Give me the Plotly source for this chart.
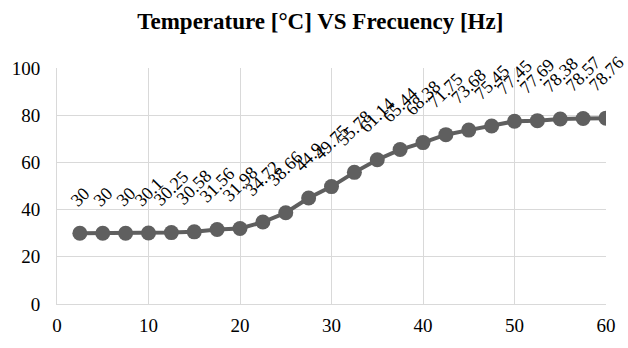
import plotly.graph_objects as go

frequency = [2.5, 5, 7.5, 10, 12.5, 15, 17.5, 20, 22.5, 25, 27.5, 30,
             32.5, 35, 37.5, 40, 42.5, 45, 47.5, 50, 52.5, 55, 57.5, 60]
temperature = [30, 30, 30, 30.1, 30.25, 30.58, 31.56, 31.98, 34.72, 38.66, 44.9, 49.75,
               55.78, 61.14, 65.44, 68.38, 71.75, 73.68, 75.45, 77.45, 77.69, 78.38, 78.57, 78.76]
x_ticks = [0, 10, 20, 30, 40, 50, 60]
y_ticks = [0, 20, 40, 60, 80, 100]
title_text = "Temperature [°C] VS Frecuency [Hz]"

FONT = "Liberation Serif, Times New Roman, serif"
GRAY = "#5f5f5f"
GRID = "#d9d9d9"

fig = go.Figure()
fig.add_trace(go.Scatter(
    x=frequency, y=temperature, mode="lines+markers",
    line=dict(color=GRAY, width=4),
    marker=dict(color=GRAY, size=15),
    showlegend=False, hoverinfo="skip",
))

annotations = []
for xv, yv in zip(frequency, temperature):
    annotations.append(dict(
        x=xv, y=yv, xref="x", yref="y", text=f"{yv:g}", showarrow=False,
        textangle=-45, xanchor="center", yanchor="bottom", yshift=20,
        font=dict(family=FONT, size=18, color="#000000"),
    ))

fig.update_layout(
    width=628, height=348,
    margin=dict(l=50, r=16, t=68, b=38),
    paper_bgcolor="white", plot_bgcolor="white",
    title=dict(text=f"<b>{title_text}</b>", x=0.51, xanchor="center", y=0.94, yanchor="middle",
               font=dict(family=FONT, size=23, color="#000000")),
    font=dict(family=FONT, size=19, color="#000000"),
    annotations=annotations,
    xaxis=dict(range=[0, 60], tickvals=x_ticks, showgrid=True, gridcolor=GRID, gridwidth=1,
               showline=True, linecolor=GRID, linewidth=1, zeroline=False, ticks="",
               tickfont=dict(family=FONT, size=19, color="#000000"), fixedrange=True),
    yaxis=dict(range=[0, 100], tickvals=y_ticks, showgrid=True, gridcolor=GRID, gridwidth=1,
               showline=True, linecolor=GRID, linewidth=1, zeroline=False, ticks="",
               tickfont=dict(family=FONT, size=19, color="#000000"), fixedrange=True),
)
fig.update_yaxes(ticklabelstandoff=12)
fig.update_xaxes(ticklabelstandoff=4)

fig.write_html("out.html")
